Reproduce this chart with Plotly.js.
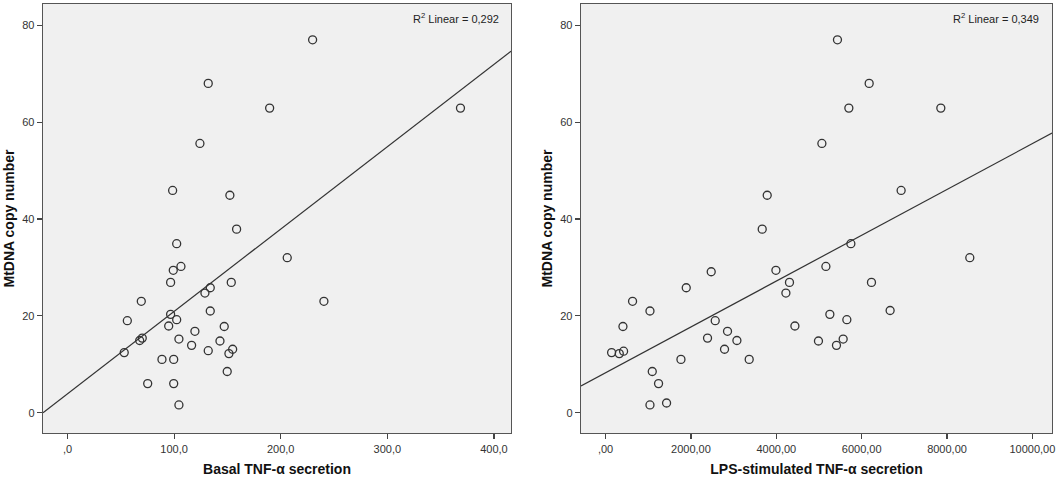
<!DOCTYPE html>
<html>
<head>
<meta charset="utf-8">
<script src="https://cdn.plot.ly/plotly-3.0.1.min.js"></script>
<style>
  body { margin: 0; background: #ffffff; }
  #chart { width: 1059px; height: 479px; }
</style>
</head>
<body>
<div id="chart"></div>
<script>
// Basal TNF-a secretion vs MtDNA copy number
var basalX = [229.9, 132.0, 189.6, 368.6, 124.2, 98.6, 152.3, 158.6,
  102.4, 206.1, 106.4, 99.2, 96.7, 153.6, 133.9, 128.9,
  69.2, 240.5, 133.9, 96.7, 56.1, 102.4, 94.9, 147.0,
  119.5, 70.1, 67.7, 104.5, 143.0, 116.4, 132.0, 154.9,
  151.4, 53.2, 88.6, 99.6, 149.8, 75.2, 99.6, 104.5];
var basalY = [77.0, 68.0, 62.9, 62.9, 55.6, 45.9, 44.9, 37.9,
  34.9, 32.0, 30.2, 29.4, 26.9, 26.9, 25.8, 24.7,
  23.0, 23.0, 21.0, 20.3, 19.0, 19.2, 17.9, 17.8,
  16.8, 15.4, 14.9, 15.2, 14.8, 13.9, 12.8, 13.1,
  12.2, 12.4, 11.0, 11.0, 8.5, 6.0, 6.0, 1.6];

// LPS-stimulated TNF-a secretion vs MtDNA copy number
var lpsX = [5433, 6176, 5700, 7855, 5068, 6925, 3787, 3670,
  5747, 8534, 5162, 3991, 2475, 4309, 6230, 1890,
  4225, 632, 1040, 6667, 5255, 2569, 5653, 407,
  4436, 2857, 2389, 3077, 4988, 5567, 5410, 2787,
  141, 422, 321, 1766, 3365, 1094, 1241, 1040, 1429];
var lpsY = [77.0, 68.0, 62.9, 62.9, 55.6, 45.9, 44.9, 37.9,
  34.9, 32.0, 30.2, 29.4, 29.1, 26.9, 26.9, 25.8,
  24.7, 23.0, 21.0, 21.1, 20.3, 19.0, 19.2, 17.8,
  17.9, 16.8, 15.4, 14.9, 14.8, 15.2, 13.9, 13.1,
  12.4, 12.7, 12.2, 11.0, 11.0, 8.5, 6.0, 1.6, 2.0];

var yTicks = [0, 20, 40, 60, 80];
var basalTicks = [0, 100, 200, 300, 400];
var basalTickText = [',0', '100,0', '200,0', '300,0', '400,0'];
var lpsTicks = [0, 2000, 4000, 6000, 8000, 10000];
var lpsTickText = [',00', '2000,00', '4000,00', '6000,00', '8000,00', '10000,00'];

var basalRange = [-23, 416];
var lpsRange = [-576, 10460];
var yRange = [-4.2, 84.4];

// least squares fit line across the full x range
function fitLine(xs, ys, range) {
  var n = xs.length;
  var mx = xs.reduce((a, b) => a + b, 0) / n;
  var my = ys.reduce((a, b) => a + b, 0) / n;
  var sxy = 0, sxx = 0;
  for (var i = 0; i < n; i++) {
    sxy += (xs[i] - mx) * (ys[i] - my);
    sxx += (xs[i] - mx) * (xs[i] - mx);
  }
  var b = sxy / sxx;
  var a = my - b * mx;
  return { x: range, y: range.map(v => a + b * v) };
}

var basalFit = fitLine(basalX, basalY, basalRange);
var lpsFit = fitLine(lpsX, lpsY, lpsRange);

var markerStyle = {
  symbol: 'circle-open',
  size: 8,
  color: '#333333',
  line: { width: 1.3, color: '#333333' }
};

var data = [
  { x: basalX, y: basalY, mode: 'markers', type: 'scatter', marker: markerStyle, xaxis: 'x', yaxis: 'y', hoverinfo: 'x+y' },
  { x: basalFit.x, y: basalFit.y, mode: 'lines', type: 'scatter', line: { color: '#333333', width: 1.2 }, xaxis: 'x', yaxis: 'y', hoverinfo: 'skip' },
  { x: lpsX, y: lpsY, mode: 'markers', type: 'scatter', marker: markerStyle, xaxis: 'x2', yaxis: 'y2', hoverinfo: 'x+y' },
  { x: lpsFit.x, y: lpsFit.y, mode: 'lines', type: 'scatter', line: { color: '#333333', width: 1.2 }, xaxis: 'x2', yaxis: 'y2', hoverinfo: 'skip' }
];

var W = 1059, H = 479;
var tickFont = { family: 'Liberation Sans, Arial', size: 11, color: '#333333' };
var titleFont = { family: 'Liberation Sans, Arial', size: 14, color: '#111111' };
var noteFont = { family: 'Liberation Sans, Arial', size: 11, color: '#222222' };

function xAxis(domain, range, vals, text, title) {
  return {
    domain: domain, range: range, tickmode: 'array', tickvals: vals, ticktext: text,
    ticks: 'outside', ticklen: 5, tickcolor: '#444444', tickwidth: 1.2,
    showline: true, mirror: true, linecolor: '#555555', linewidth: 1.3,
    showgrid: false, zeroline: false, tickfont: tickFont, automargin: false,
    title: { text: '<b>' + title + '</b>', font: titleFont, standoff: 10 }
  };
}

function yAxis(domain, anchor) {
  return {
    domain: domain, range: yRange, anchor: anchor, tickmode: 'array', tickvals: yTicks,
    ticks: 'outside', ticklen: 5, tickcolor: '#444444', tickwidth: 1.2,
    showline: true, mirror: true, linecolor: '#555555', linewidth: 1.3,
    showgrid: false, zeroline: false, tickfont: tickFont, automargin: false,
    title: { text: '<b>MtDNA copy number</b>', font: titleFont, standoff: 4 }
  };
}

var yDom = [1 - 433 / H, 1 - 4 / H];

var layout = {
  width: W, height: H,
  margin: { l: 0, r: 0, t: 0, b: 0 },
  paper_bgcolor: '#ffffff',
  plot_bgcolor: '#f0f0f0',
  showlegend: false,
  xaxis: xAxis([43 / W, 511 / W], basalRange, basalTicks, basalTickText, 'Basal TNF-α secretion'),
  yaxis: yAxis(yDom, 'x'),
  xaxis2: Object.assign(xAxis([581 / W, 1052 / W], lpsRange, lpsTicks, lpsTickText, 'LPS-stimulated TNF-α secretion'), { anchor: 'y2' }),
  yaxis2: yAxis(yDom, 'x2'),
  annotations: [
    { xref: 'x domain', yref: 'y domain', x: 0.979, y: 0.988, xanchor: 'right', yanchor: 'top',
      text: 'R<sup>2</sup> Linear = 0,292', showarrow: false, font: noteFont },
    { xref: 'x2 domain', yref: 'y2 domain', x: 0.976, y: 0.988, xanchor: 'right', yanchor: 'top',
      text: 'R<sup>2</sup> Linear = 0,349', showarrow: false, font: noteFont }
  ]
};

Plotly.newPlot(document.getElementById('chart'), data, layout, { displayModeBar: false, staticPlot: true });
</script>
</body>
</html>
